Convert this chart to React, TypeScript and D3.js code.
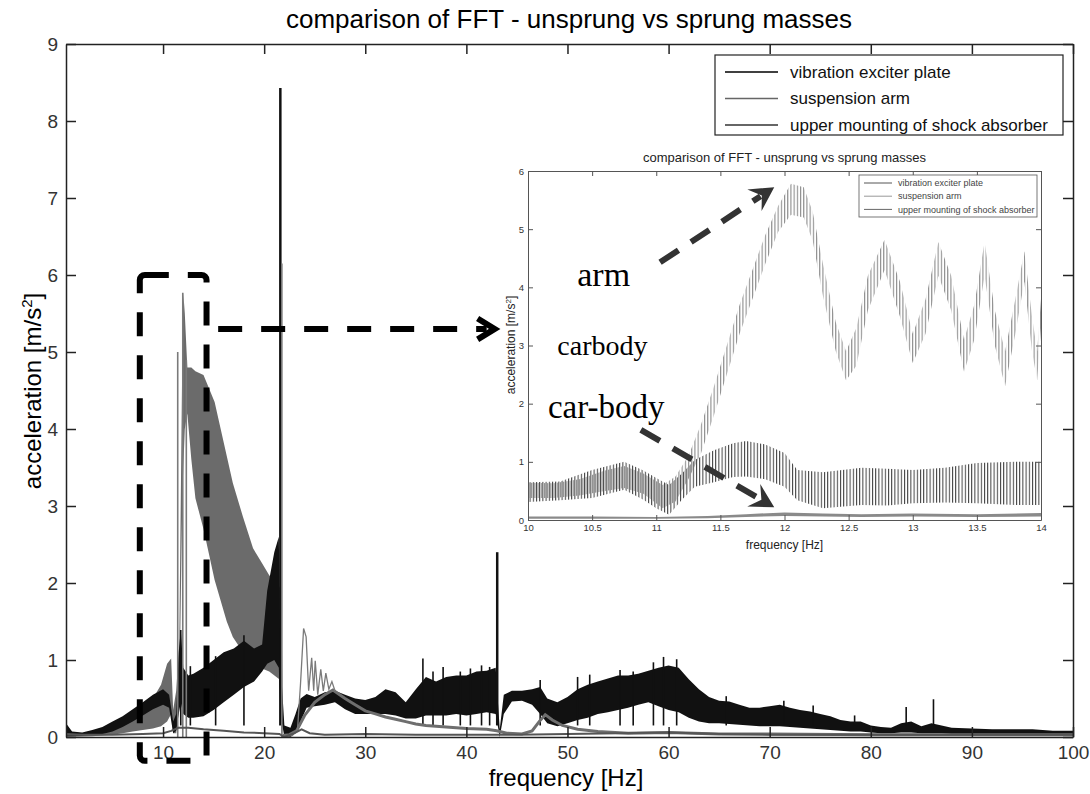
import React, { useEffect, useRef } from "react";
import * as d3 from "d3";

const SANS = "'Liberation Sans', Arial, sans-serif";
const SERIF = "'Liberation Serif', 'Times New Roman', serif";

const xTicks = [10, 20, 30, 40, 50, 60, 70, 80, 90, 100];
const yTicks = [0, 1, 2, 3, 4, 5, 6, 7, 8, 9];
const legendNames = ["vibration exciter plate", "suspension arm", "upper mounting of shock absorber"];

// [Hz, top, bottom] of the dense exciter plate trace
const plateBand = [
  [0.4, 0.18, 0.02], [1, 0.07, 0.02], [2, 0.06, 0.02], [3, 0.09, 0.03], [4, 0.13, 0.04],
  [5, 0.2, 0.07], [6, 0.27, 0.13], [7, 0.36, 0.2], [8, 0.45, 0.28], [9, 0.55, 0.36],
  [10, 0.62, 0.42], [10.6, 0.55, 0.38], [11.0, 0.2, 0.05], [11.3, 0.3, 0.08], [11.55, 1.1, 0.3],
  [11.75, 1.39, 0.45], [12.0, 0.9, 0.3], [12.5, 0.8, 0.25], [13, 0.82, 0.25], [14, 0.9, 0.27],
  [15, 1.0, 0.35], [16, 1.1, 0.45], [17, 1.15, 0.55], [18, 1.25, 0.65], [19, 1.15, 0.72],
  [19.8, 1.2, 0.85], [20.3, 1.9, 0.95], [21.0, 2.4, 1.0], [21.45, 2.6, 0.9], [21.6, 1.0, 0.3],
  [22.0, 0.15, 0.0], [22.6, 0.12, 0.0], [23.1, 0.3, 0.05], [23.6, 0.5, 0.2], [24.2, 0.56, 0.38],
  [25, 0.52, 0.4], [26, 0.58, 0.42], [27, 0.6, 0.45], [28, 0.55, 0.36], [29, 0.5, 0.3],
  [30, 0.48, 0.3], [31, 0.52, 0.3], [32, 0.62, 0.3], [33, 0.58, 0.28], [34, 0.45, 0.24],
  [35, 0.62, 0.24], [36, 0.78, 0.28], [37, 0.72, 0.28], [38, 0.78, 0.28], [39, 0.8, 0.3],
  [40, 0.8, 0.28], [41, 0.85, 0.3], [42, 0.86, 0.32], [42.9, 0.9, 0.3], [43.3, 0.1, 0.0],
  [43.7, 0.55, 0.3], [44.5, 0.6, 0.46], [45.5, 0.6, 0.47], [46.5, 0.62, 0.42], [47.3, 0.65, 0.3],
  [48, 0.5, 0.18], [49, 0.45, 0.14], [50, 0.52, 0.18], [51, 0.62, 0.22], [52, 0.68, 0.25],
  [53, 0.72, 0.3], [54, 0.76, 0.32], [55, 0.8, 0.35], [56, 0.8, 0.38], [57, 0.82, 0.42],
  [58, 0.86, 0.45], [59, 0.9, 0.4], [60, 0.93, 0.35], [61, 0.9, 0.32], [62, 0.75, 0.25],
  [63, 0.62, 0.2], [64, 0.52, 0.18], [65, 0.47, 0.18], [66, 0.46, 0.17], [67, 0.42, 0.16],
  [68, 0.38, 0.15], [69, 0.38, 0.14], [70, 0.4, 0.14], [71, 0.42, 0.14], [72, 0.38, 0.13],
  [73, 0.35, 0.12], [74, 0.33, 0.11], [75, 0.3, 0.1], [76, 0.27, 0.09], [77, 0.22, 0.08],
  [78, 0.2, 0.07], [79, 0.2, 0.07], [80, 0.15, 0.06], [81, 0.13, 0.05], [82, 0.12, 0.05],
  [83, 0.18, 0.06], [84, 0.2, 0.06], [85, 0.14, 0.05], [86, 0.18, 0.05], [87, 0.15, 0.05],
  [88, 0.12, 0.04], [90, 0.11, 0.04], [92, 0.1, 0.03], [94, 0.1, 0.03], [96, 0.1, 0.03],
  [98, 0.08, 0.03], [100, 0.08, 0.02],
];

// [Hz, peak] single lines sticking out of the plate trace
const plateSpikes = [
  [21.6, 8.43], [43.05, 2.4], [11.75, 1.39], [12.7, 0.92], [15.2, 1.05], [18.0, 1.32],
  [35.7, 1.02], [36.7, 0.85], [37.7, 0.91], [39.4, 0.85], [40.4, 0.89], [41.5, 0.93],
  [42.3, 0.91], [47.3, 0.74], [51.0, 0.78], [52.2, 0.81], [55.2, 0.87], [56.5, 0.85],
  [58.5, 0.97], [59.5, 1.04], [60.8, 1.01], [65.7, 0.53], [71.4, 0.47], [74.3, 0.41],
  [78.4, 0.28], [83.5, 0.39], [86.2, 0.49],
];

// [Hz, top, bottom] of the dense suspension arm trace
const armBand = [
  [0.4, 0.05, 0.0], [3, 0.05, 0.01], [5, 0.12, 0.03], [6, 0.18, 0.05], [7, 0.27, 0.07],
  [8, 0.37, 0.09], [9, 0.5, 0.11], [9.8, 0.68, 0.14], [10.4, 0.95, 0.2], [10.8, 1.02, 0.3],
  [11.0, 0.35, 0.05], [11.3, 0.6, 0.05], [11.6, 1.2, 0.4], [11.9, 4.9, 3.1], [12.0, 5.77, 3.5],
  [12.15, 5.5, 4.0], [12.4, 4.8, 4.2], [12.8, 4.8, 3.6], [13.2, 4.75, 3.1], [14.0, 4.7, 2.7],
  [15.1, 4.35, 2.04], [16.3, 3.65, 1.5], [16.9, 3.3, 1.3], [17.9, 2.86, 1.1], [18.9, 2.45, 0.95],
  [19.6, 2.3, 0.9], [20.5, 2.1, 0.85], [21.5, 1.95, 0.75], [21.7, 1.9, 0.3], [21.85, 0.1, 0.0],
];
const armSpikes = [[11.45, 5.0], [11.95, 5.77], [12.3, 4.9], [21.75, 6.15]];

// [Hz, value] thick tail of the arm trace after the 21.7 Hz drop
const armTail = [
  [21.85, 0.02], [22.5, 0.03], [23.2, 0.08], [24, 0.28], [25, 0.45], [26, 0.55], [26.8, 0.61],
  [28, 0.5], [29, 0.42], [30, 0.34], [31, 0.3], [32, 0.26], [33, 0.23], [34, 0.2], [35, 0.17],
  [36, 0.15], [38, 0.13], [40, 0.11], [42, 0.1], [43, 0.08], [44, 0.05], [45.5, 0.04],
  [46.5, 0.08], [47.2, 0.2], [47.8, 0.29], [48.5, 0.22], [49.5, 0.15], [51, 0.1], [53, 0.07],
  [56, 0.05], [60, 0.06], [65, 0.04], [70, 0.04], [80, 0.03], [90, 0.03], [100, 0.03],
];
// thin arm trace with the 24 Hz peaks
const armSide = [
  [22.0, 0.0], [22.8, 0.02], [23.3, 0.1], [23.6, 0.7], [23.9, 1.41], [24.15, 1.3], [24.4, 0.6],
  [24.7, 1.03], [24.9, 0.6], [25.05, 0.99], [25.3, 0.55], [25.6, 0.88], [25.85, 0.6], [26.1, 0.83],
  [26.4, 0.62], [26.7, 0.72], [27.0, 0.6],
];
// upper mounting of shock absorber (car body)
const bodyLine = [
  [0.4, 0.04], [2, 0.03], [5, 0.03], [8, 0.04], [10, 0.05], [10.8, 0.08], [11.5, 0.12],
  [12.5, 0.12], [14, 0.1], [16, 0.08], [18, 0.06], [20, 0.05], [21.5, 0.04], [22, 0.0],
  [23, 0.05], [23.7, 0.1], [24.5, 0.05], [26, 0.03], [30, 0.04], [35, 0.03], [40, 0.03],
  [45, 0.03], [50, 0.04], [55, 0.05], [60, 0.06], [65, 0.04], [70, 0.03], [80, 0.03],
  [90, 0.03], [100, 0.03],
];

// inset, 10 - 14 Hz, [Hz, ripple top, ripple bottom]
const insetXTicks = [10, 10.5, 11, 11.5, 12, 12.5, 13, 13.5, 14];
const insetYTicks = [0, 1, 2, 3, 4, 5, 6];
const insetArm = [
  [10.0, 0.64, 0.38], [10.2, 0.63, 0.38], [10.4, 0.7, 0.42], [10.6, 0.85, 0.5], [10.75, 0.93, 0.55],
  [10.9, 0.8, 0.45], [11.05, 0.6, 0.2], [11.15, 0.75, 0.32], [11.25, 1.1, 0.7], [11.35, 1.65, 1.15],
  [11.45, 2.3, 1.8], [11.55, 3.0, 2.5], [11.65, 3.7, 3.2], [11.75, 4.3, 3.8], [11.85, 4.9, 4.4],
  [11.95, 5.4, 4.95], [12.05, 5.78, 5.25], [12.15, 5.72, 5.2], [12.22, 5.3, 4.8], [12.3, 4.4, 3.85],
  [12.4, 3.4, 2.9], [12.48, 2.9, 2.4], [12.56, 3.3, 2.65], [12.65, 4.2, 3.6], [12.78, 4.82, 4.3],
  [12.9, 4.1, 3.5], [13.0, 3.2, 2.7], [13.1, 3.8, 3.2], [13.2, 4.78, 4.2], [13.3, 4.2, 3.6],
  [13.4, 3.1, 2.55], [13.48, 3.7, 3.1], [13.56, 4.78, 4.2], [13.64, 3.6, 3.0], [13.72, 2.9, 2.3],
  [13.8, 3.8, 3.2], [13.87, 4.62, 4.1], [13.93, 3.5, 2.9], [13.97, 2.9, 2.4], [14.0, 3.8, 3.3],
];
const insetPlate = [
  [10.0, 0.65, 0.31], [10.25, 0.66, 0.34], [10.5, 0.86, 0.38], [10.75, 1.0, 0.52], [10.9, 0.85, 0.35],
  [11.0, 0.72, 0.2], [11.1, 0.6, 0.09], [11.2, 0.8, 0.35], [11.3, 1.03, 0.57], [11.45, 1.2, 0.65],
  [11.6, 1.32, 0.74], [11.7, 1.36, 0.75], [11.85, 1.3, 0.7], [12.0, 1.15, 0.57], [12.1, 0.86, 0.34],
  [12.3, 0.82, 0.2], [12.6, 0.9, 0.26], [12.8, 0.88, 0.25], [13.0, 0.86, 0.29], [13.25, 0.9, 0.3],
  [13.5, 0.98, 0.29], [13.8, 1.0, 0.26], [14.0, 1.0, 0.26],
];
const insetBody = [
  [10.0, 0.06, 0.02], [10.5, 0.06, 0.02], [11.0, 0.05, 0.02], [11.4, 0.07, 0.03], [11.7, 0.1, 0.05],
  [12.0, 0.13, 0.07], [12.3, 0.11, 0.06], [12.6, 0.1, 0.05], [13.0, 0.11, 0.06], [13.5, 0.1, 0.05],
  [14.0, 0.12, 0.06],
];

function styleAxis(g, size, color, width) {
  g.attr("font-family", SANS).attr("font-size", size);
  g.select(".domain").attr("stroke", color).attr("stroke-width", width);
  g.selectAll(".tick line").attr("stroke", color).attr("stroke-width", width);
  g.selectAll(".tick text").attr("fill", "#333");
}

function arrowHead(g, x1, y1, x2, y2, len, spread, color, width, filled) {
  const ang = Math.atan2(y2 - y1, x2 - x1);
  const a1 = ang + Math.PI - spread;
  const a2 = ang + Math.PI + spread;
  const p1 = [x2 + Math.cos(a1) * len, y2 + Math.sin(a1) * len];
  const p2 = [x2 + Math.cos(a2) * len, y2 + Math.sin(a2) * len];
  if (filled) {
    const n = [x2 - Math.cos(ang) * len * 0.55, y2 - Math.sin(ang) * len * 0.55];
    g.append("path")
      .attr("d", `M${x2},${y2}L${p1[0]},${p1[1]}L${n[0]},${n[1]}L${p2[0]},${p2[1]}Z`)
      .attr("fill", color);
  } else {
    g.append("path")
      .attr("d", `M${p1[0]},${p1[1]}L${x2},${y2}L${p2[0]},${p2[1]}`)
      .attr("fill", "none")
      .attr("stroke", color)
      .attr("stroke-width", width)
      .attr("stroke-linejoin", "miter");
  }
}

export default function App() {
  const ref = useRef(null);

  useEffect(() => {
    const svg = d3.select(ref.current);
    svg.selectAll("*").remove();

    const x = d3.scaleLinear().domain([0.4, 100]).range([66, 1073]);
    const y = d3.scaleLinear().domain([0, 9]).range([737, 44]);

    const defs = svg.append("defs");
    defs.append("clipPath").attr("id", "mainClip")
      .append("rect").attr("x", 66).attr("y", 44).attr("width", 1007).attr("height", 693);

    const stripe = (id, color, off, w) => {
      const p = defs.append("pattern").attr("id", id)
        .attr("patternUnits", "userSpaceOnUse")
        .attr("x", off).attr("y", 0).attr("width", 3.2).attr("height", 20);
      p.append("rect").attr("x", 0).attr("y", 0).attr("width", w).attr("height", 20).attr("fill", color);
    };
    stripe("stArm", "#8a8a8a", 0, 1.1);
    stripe("stPlate", "#3a3a3a", 1.6, 1.0);

    svg.append("rect").attr("width", 1090).attr("height", 794).attr("fill", "#fff");

    // title
    svg.append("text")
      .attr("x", 569).attr("y", 28)
      .attr("text-anchor", "middle")
      .attr("font-family", SANS).attr("font-size", 26)
      .text("comparison of FFT - unsprung vs sprung masses");

    // data
    const plot = svg.append("g").attr("clip-path", "url(#mainClip)");
    const band = d3.area().x((d) => x(d[0])).y0((d) => y(d[2])).y1((d) => y(d[1]));
    const line = d3.line().x((d) => x(d[0])).y((d) => y(d[1]));

    plot.append("path").attr("d", band(armBand)).attr("fill", "#6b6b6b");
    plot.append("path").attr("d", band(plateBand)).attr("fill", "#111");

    plot.selectAll(".pspike").data(plateSpikes).enter().append("line")
      .attr("x1", (d) => x(d[0])).attr("x2", (d) => x(d[0]))
      .attr("y1", y(0.15)).attr("y2", (d) => y(d[1]))
      .attr("stroke", "#111").attr("stroke-width", (d) => (d[1] > 2 ? 2.5 : 1.6));

    plot.selectAll(".aspike").data(armSpikes).enter().append("line")
      .attr("x1", (d) => x(d[0])).attr("x2", (d) => x(d[0]))
      .attr("y1", y(0)).attr("y2", (d) => y(d[1]))
      .attr("stroke", "#7a7a7a").attr("stroke-width", 1.6);

    plot.append("path").attr("d", line(armTail))
      .attr("fill", "none").attr("stroke", "#6e6e6e").attr("stroke-width", 3);
    plot.append("path").attr("d", line(armSide))
      .attr("fill", "none").attr("stroke", "#7a7a7a").attr("stroke-width", 1.3);
    plot.append("path").attr("d", line(bodyLine))
      .attr("fill", "none").attr("stroke", "#555").attr("stroke-width", 2);

    // axes, MATLAB box with inward ticks
    const gb = svg.append("g").attr("transform", "translate(0,737)")
      .call(d3.axisBottom(x).tickValues(xTicks).tickSizeInner(-10).tickSizeOuter(0).tickPadding(9));
    styleAxis(gb, 19, "#222", 1.5);
    const gt = svg.append("g").attr("transform", "translate(0,44)")
      .call(d3.axisTop(x).tickValues(xTicks).tickSizeInner(-10).tickSizeOuter(0).tickFormat(() => ""));
    styleAxis(gt, 19, "#222", 1.5);
    const gl = svg.append("g").attr("transform", "translate(66,0)")
      .call(d3.axisLeft(y).tickValues(yTicks).tickSizeInner(-10).tickSizeOuter(0).tickPadding(8));
    styleAxis(gl, 19, "#222", 1.5);
    const gr = svg.append("g").attr("transform", "translate(1073,0)")
      .call(d3.axisRight(y).tickValues(yTicks).tickSizeInner(-10).tickSizeOuter(0).tickFormat(() => ""));
    styleAxis(gr, 19, "#222", 1.5);

    svg.append("text")
      .attr("x", 566).attr("y", 786)
      .attr("text-anchor", "middle")
      .attr("font-family", SANS).attr("font-size", 24)
      .text("frequency [Hz]");

    const yl = svg.append("text")
      .attr("transform", "translate(41,391) rotate(-90)")
      .attr("text-anchor", "middle")
      .attr("font-family", SANS).attr("font-size", 24);
    yl.append("tspan").text("acceleration [m/s");
    yl.append("tspan").attr("dy", -9).attr("font-size", 15).text("2");
    yl.append("tspan").attr("dy", 9).text("]");

    // legend
    const legColors = ["#000", "#666", "#333"];
    const leg = svg.append("g");
    leg.append("rect").attr("x", 715).attr("y", 55).attr("width", 348).attr("height", 80)
      .attr("fill", "#fff").attr("stroke", "#222").attr("stroke-width", 1.2);
    legendNames.forEach((name, i) => {
      const ly = 72 + i * 26.5;
      leg.append("line").attr("x1", 725).attr("x2", 778).attr("y1", ly).attr("y2", ly)
        .attr("stroke", legColors[i]).attr("stroke-width", 1.5);
      leg.append("text").attr("x", 790).attr("y", ly).attr("dy", "0.35em")
        .attr("font-family", SANS).attr("font-size", 17).attr("fill", "#111").text(name);
    });

    // inset
    const ix = d3.scaleLinear().domain([10, 14]).range([528, 1041]);
    const iy = d3.scaleLinear().domain([0, 6]).range([520, 171]);
    defs.append("clipPath").attr("id", "insetClip")
      .append("rect").attr("x", 528).attr("y", 171).attr("width", 513).attr("height", 349);
    const inset = svg.append("g");
    inset.append("rect").attr("x", 528).attr("y", 171).attr("width", 513).attr("height", 349).attr("fill", "#fff");
    inset.append("text")
      .attr("x", 784.5).attr("y", 162).attr("text-anchor", "middle")
      .attr("font-family", SANS).attr("font-size", 13).attr("fill", "#222")
      .text("comparison of FFT - unsprung vs sprung masses");

    const iband = d3.area().x((d) => ix(d[0])).y0((d) => iy(d[2])).y1((d) => iy(d[1]));
    const idata = inset.append("g").attr("clip-path", "url(#insetClip)");
    idata.append("path").attr("d", iband(insetArm)).attr("fill", "url(#stArm)");
    idata.append("path").attr("d", iband(insetPlate)).attr("fill", "url(#stPlate)");
    idata.append("path").attr("d", iband(insetBody)).attr("fill", "#8a8a8a");

    const fmt = (d) => String(d);
    const ib = inset.append("g").attr("transform", "translate(0,520)")
      .call(d3.axisBottom(ix).tickValues(insetXTicks).tickSizeInner(-5).tickSizeOuter(0).tickPadding(4).tickFormat(fmt));
    styleAxis(ib, 9.5, "#555", 1);
    const it = inset.append("g").attr("transform", "translate(0,171)")
      .call(d3.axisTop(ix).tickValues(insetXTicks).tickSizeInner(-5).tickSizeOuter(0).tickFormat(() => ""));
    styleAxis(it, 9.5, "#555", 1);
    const il = inset.append("g").attr("transform", "translate(528,0)")
      .call(d3.axisLeft(iy).tickValues(insetYTicks).tickSizeInner(-5).tickSizeOuter(0).tickPadding(4).tickFormat(fmt));
    styleAxis(il, 9.5, "#555", 1);
    const ir = inset.append("g").attr("transform", "translate(1041,0)")
      .call(d3.axisRight(iy).tickValues(insetYTicks).tickSizeInner(-5).tickSizeOuter(0).tickFormat(() => ""));
    styleAxis(ir, 9.5, "#555", 1);

    inset.append("text")
      .attr("x", 784.5).attr("y", 549).attr("text-anchor", "middle")
      .attr("font-family", SANS).attr("font-size", 12).attr("fill", "#222")
      .text("frequency [Hz]");
    const iyl = inset.append("text")
      .attr("transform", "translate(515,345) rotate(-90)")
      .attr("text-anchor", "middle")
      .attr("font-family", SANS).attr("font-size", 12).attr("fill", "#222");
    iyl.append("tspan").text("acceleration [m/s");
    iyl.append("tspan").attr("dy", -4).attr("font-size", 8).text("2");
    iyl.append("tspan").attr("dy", 4).text("]");

    const iLegColors = ["#555", "#999", "#666"];
    inset.append("rect").attr("x", 859).attr("y", 175).attr("width", 178).attr("height", 42)
      .attr("fill", "#fff").attr("stroke", "#555").attr("stroke-width", 0.8);
    legendNames.forEach((name, i) => {
      const ly = 183 + i * 13.2;
      inset.append("line").attr("x1", 864).attr("x2", 892).attr("y1", ly).attr("y2", ly)
        .attr("stroke", iLegColors[i]).attr("stroke-width", 1);
      inset.append("text").attr("x", 898).attr("y", ly).attr("dy", "0.35em")
        .attr("font-family", SANS).attr("font-size", 9).attr("fill", "#444").text(name);
    });

    // annotations: zoom box, arrows and labels
    const ann = svg.append("g");
    ann.append("rect")
      .attr("x", x(7.7)).attr("y", y(6.0))
      .attr("width", x(14.3) - x(7.7)).attr("height", y(-0.31) - y(6.0))
      .attr("rx", 5)
      .attr("fill", "none").attr("stroke", "#000").attr("stroke-width", 6)
      .attr("stroke-dasharray", "24 19");

    const m1 = [x(15.45), y(5.3)];
    const m2 = [x(42.8), y(5.3)];
    ann.append("line").attr("x1", m1[0]).attr("y1", m1[1]).attr("x2", m2[0] - 8).attr("y2", m2[1])
      .attr("stroke", "#000").attr("stroke-width", 6).attr("stroke-dasharray", "24 19");
    arrowHead(ann, m1[0], m1[1], m2[0], m2[1], 20, 0.55, "#000", 6, false);

    const armA = [ix(11.03), iy(4.43)];
    const armB = [ix(11.92), iy(5.72)];
    ann.append("line").attr("x1", armA[0]).attr("y1", armA[1])
      .attr("x2", armB[0] - (armB[0] - armA[0]) * 0.12).attr("y2", armB[1] - (armB[1] - armA[1]) * 0.12)
      .attr("stroke", "#333").attr("stroke-width", 6).attr("stroke-dasharray", "22 15");
    arrowHead(ann, armA[0], armA[1], armB[0], armB[1], 27, 0.5, "#333", 6, true);

    const carA = [ix(10.88), iy(1.55)];
    const carB = [ix(11.92), iy(0.22)];
    ann.append("line").attr("x1", carA[0]).attr("y1", carA[1])
      .attr("x2", carB[0] - (carB[0] - carA[0]) * 0.12).attr("y2", carB[1] - (carB[1] - carA[1]) * 0.12)
      .attr("stroke", "#333").attr("stroke-width", 6).attr("stroke-dasharray", "22 15");
    arrowHead(ann, carA[0], carA[1], carB[0], carB[1], 27, 0.5, "#333", 6, true);

    const notes = [["arm", 10.59, 4.03, 34], ["carbody", 10.58, 2.83, 28], ["car-body", 10.61, 1.75, 33]];
    notes.forEach((n) => {
      ann.append("text")
        .attr("x", ix(n[1])).attr("y", iy(n[2]))
        .attr("text-anchor", "middle")
        .attr("font-family", SERIF).attr("font-size", n[3])
        .attr("fill", "#000")
        .text(n[0]);
    });
  }, []);

  return (
    <div style={{ position: "absolute", left: 0, top: 0 }}>
      <svg ref={ref} width={1090} height={794} style={{ display: "block" }}></svg>
    </div>
  );
}
